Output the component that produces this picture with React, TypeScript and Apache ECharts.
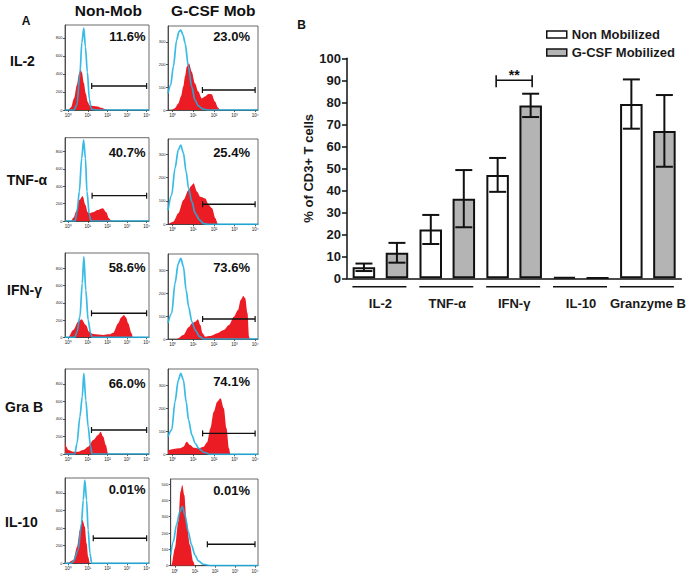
import React, { useEffect, useRef } from 'react';
import * as echarts from 'echarts';

type Pt = [number, number];

// ---------- Panel B data ----------
const categories = ['IL-2', 'TNF-α', 'IFN-γ', 'IL-10', 'Granzyme B'];
const nonMobMean = [5.0, 22.2, 47.0, 0.6, 79.2];
const nonMobErr = [1.7, 6.6, 7.7, 0, 11.2];
const gcsfMean = [11.6, 36.2, 78.6, 0.2, 67.0];
const gcsfErr = [4.5, 13.0, 5.3, 0, 16.3];
const significance: [number, number, string][] = [[2, 90, '**']];

// ---------- Panel A data (x = log10 fluorescence, y = count) ----------
const rowLabels = ['IL-2', 'TNF-α', 'IFN-γ', 'Gra B', 'IL-10'];
const nonMobPct = ['11.6%', '40.7%', '58.6%', '66.0%', '0.01%'];
const gcsfPct = ['23.0%', '25.4%', '73.6%', '74.1%', '0.01%'];
const decadeTicks = [0, 1, 2, 3, 4];
const nonCountTicks = [0, 200, 400, 600, 800];
const gCountTicks = [0, 100, 200, 300];
const gIl10CountTicks = [0, 100, 200, 300, 400, 500];
const nonYMax = [944, 957, 980, 971, 969];
const gYMax = [370, 366, 370, 371, 531];
const nonXRange: Pt = [-0.16, 4.12];
const gXRange: Pt[] = [[-0.23, 4.14], [-0.23, 4.14], [-0.23, 4.14], [-0.23, 4.14], [-0.21, 4.15]];

const il2NonRed: Pt[] = [[-0.16,0],[0,0],[0.15,30],[0.3,130],[0.45,280],[0.55,400],[0.63,450],[0.7,420],[0.8,300],[0.9,180],[1.0,90],[1.1,50],[1.3,45],[1.5,40],[1.7,25],[1.9,8],[2.0,0],[4.12,0]];
const il2NonCyan: Pt[] = [[-0.16,0],[0.3,0],[0.45,60],[0.6,400],[0.7,750],[0.8,910],[0.88,700],[0.98,420],[1.08,120],[1.18,10],[1.4,0],[4.12,0]];
const il2GRed: Pt[] = [[-0.23,0],[-0.05,0],[0.1,8],[0.27,29],[0.4,60],[0.51,103],[0.6,150],[0.68,191],[0.79,205],[0.92,169],[1.08,117],[1.24,81],[1.41,51],[1.57,59],[1.73,70],[1.89,69],[2.05,37],[2.2,10],[2.3,0],[4.14,0]];
const il2GCyan: Pt[] = [[-0.23,73],[-0.1,110],[0.03,191],[0.19,308],[0.3,345],[0.39,352],[0.5,330],[0.6,294],[0.76,191],[0.92,103],[1.08,44],[1.24,18],[1.48,4],[1.7,0],[4.14,0]];

const tnfNonRed: Pt[] = [[-0.16,0],[0.14,0],[0.28,40],[0.4,107],[0.57,241],[0.74,287],[0.88,184],[1.0,100],[1.08,88],[1.25,100],[1.51,126],[1.77,146],[1.94,100],[2.08,31],[2.2,0],[4.12,0]];
const tnfNonCyan: Pt[] = [[-0.16,0],[0.36,0],[0.45,100],[0.57,337],[0.69,720],[0.79,930],[0.88,720],[0.96,337],[1.08,69],[1.17,0],[4.12,0]];
const tnfGRed: Pt[] = [[-0.23,0],[-0.2,0],[0.03,11],[0.27,47],[0.52,104],[0.77,147],[0.9,165],[1.01,176],[1.18,140],[1.34,118],[1.58,111],[1.75,83],[1.91,69],[2.07,26],[2.2,0],[4.14,0]];
const tnfGCyan: Pt[] = [[-0.23,60],[-0.05,126],[0.11,240],[0.27,319],[0.39,340],[0.52,305],[0.65,226],[0.77,154],[0.93,97],[1.09,47],[1.31,18],[1.5,3],[1.7,0],[4.14,0]];

const ifnNonRed: Pt[] = [[-0.16,0],[0,0],[0.26,85],[0.51,181],[0.68,209],[0.9,143],[1.07,65],[1.28,38],[1.79,27],[2.1,35],[2.3,54],[2.55,163],[2.7,230],[2.84,259],[2.95,230],[3.06,163],[3.23,47],[3.3,0],[4.12,0]];
const ifnNonCyan: Pt[] = [[-0.16,0],[0.34,0],[0.45,60],[0.6,240],[0.72,628],[0.8,937],[0.9,550],[1.02,201],[1.14,47],[1.22,0],[4.12,0]];
const ifnGRed: Pt[] = [[-0.23,0],[0.2,0],[0.52,17],[0.77,51],[0.93,68],[1.09,75],[1.22,86],[1.34,61],[1.45,25],[1.58,10],[1.83,13],[2.16,25],[2.48,39],[2.73,61],[2.97,97],[3.17,126],[3.3,170],[3.43,187],[3.52,177],[3.63,112],[3.71,10],[3.74,0],[4.14,0]];
const ifnGCyan: Pt[] = [[-0.23,70],[-0.05,112],[0.11,242],[0.27,329],[0.39,351],[0.52,315],[0.65,213],[0.77,141],[0.93,75],[1.09,39],[1.31,10],[1.5,0],[4.14,0]];

const grbNonRed: Pt[] = [[-0.16,141],[-0.08,80],[0,46],[0.26,27],[0.51,27],[0.77,46],[1.02,84],[1.28,160],[1.53,217],[1.65,255],[1.79,198],[1.92,103],[2.04,0],[4.12,0]];
const grbNonCyan: Pt[] = [[-0.16,0],[0.34,0],[0.45,120],[0.6,427],[0.72,655],[0.8,920],[0.9,617],[1.02,312],[1.14,84],[1.22,0],[4.12,0]];
const grbGRed: Pt[] = [[-0.23,15],[-0.19,19],[0.03,23],[0.36,26],[0.52,33],[0.68,55],[0.85,40],[1.01,29],[1.26,26],[1.5,33],[1.67,52],[1.83,113],[1.99,185],[2.16,229],[2.32,244],[2.48,200],[2.61,113],[2.73,26],[2.8,0],[4.14,0]];
const grbGCyan: Pt[] = [[-0.23,77],[-0.05,106],[0.11,229],[0.27,323],[0.39,352],[0.52,323],[0.65,229],[0.77,149],[0.93,84],[1.09,48],[1.26,26],[1.5,9],[1.8,0],[4.14,0]];

const il10NonRed: Pt[] = [[-0.16,0],[0,7],[0.26,38],[0.46,189],[0.6,378],[0.73,492],[0.85,416],[0.94,227],[1.02,75],[1.11,0],[4.12,0]];
const il10NonCyan: Pt[] = [[-0.16,0],[0.15,0],[0.26,18],[0.51,151],[0.68,454],[0.77,719],[0.85,946],[0.94,719],[1.02,378],[1.11,114],[1.2,0],[4.12,0]];
const il10GRed: Pt[] = [[-0.21,0],[-0.17,5],[0,107],[0.17,270],[0.28,454],[0.37,495],[0.47,433],[0.58,270],[0.75,127],[0.92,25],[1.0,0],[4.15,0]];
const il10GCyan: Pt[] = [[-0.21,66],[-0.08,147],[0.08,250],[0.25,331],[0.37,362],[0.5,311],[0.67,208],[0.83,127],[1.0,66],[1.17,29],[1.42,9],[1.8,0],[4.15,0]];

// gates: [start decade, end decade, count level]
const nonGates: [number, number, number][] = [[1.2,4,267],[1.22,4,291],[1.19,4,279],[1.19,4,274],[1.28,4,284]];
const gGates: [number, number, number][] = [[1.44,4,88],[1.45,4,86],[1.45,4,87],[1.45,4,91],[1.62,4,131]];

const nonRed = [il2NonRed, tnfNonRed, ifnNonRed, grbNonRed, il10NonRed];
const nonCyan = [il2NonCyan, tnfNonCyan, ifnNonCyan, grbNonCyan, il10NonCyan];
const gRed = [il2GRed, tnfGRed, ifnGRed, grbGRed, il10GRed];
const gCyan = [il2GCyan, tnfGCyan, ifnGCyan, grbGCyan, il10GCyan];

// ---------- layout ----------
const FONT = "'Liberation Sans', Arial, sans-serif";
const nonRects = [[65,25,84,85],[65,137.7,84,83.3],[65,253,84,84.3],[65,369,84,85],[65,478,84,85.3]];
const gRects = [[168,26,90,84],[168,139,90,85.3],[168,254,90,85],[168,369,90,85.3],[170.7,479,87.3,86.7]];
const nonPctY = [36.7, 152.3, 267.7, 383.3, 489];
const gPctY = [36, 152.3, 267.7, 381.7, 490];
const rowLabelX = [10, 6.7, 7, 5, 5];
const rowLabelY = [61, 180, 290, 407, 522];
const SUP = ['⁰', '¹', '²', '³', '⁴'];
const RED = '#ec1c24';
const CYAN = '#1cb2e2';

function buildOption() {
  const grid: any[] = [];
  const xAxis: any[] = [];
  const yAxis: any[] = [];
  const series: any[] = [];
  const graphic: any[] = [];
  const thin = { color: '#333', width: 0.8 };

  const addPanel = (rect: number[], xr: Pt, yMax: number, yTicks: number[], red: Pt[], cyan: Pt[], gate: [number, number, number]) => {
    const gi = grid.length;
    grid.push({ left: rect[0], top: rect[1], width: rect[2], height: rect[3], show: true, borderColor: '#444', borderWidth: 0.8 });
    xAxis.push({
      gridIndex: gi, type: 'value', min: xr[0], max: xr[1],
      axisLine: { show: true, onZero: false, lineStyle: thin },
      axisTick: { show: true, length: 2, customValues: decadeTicks, lineStyle: thin },
      axisLabel: { customValues: decadeTicks, formatter: (v: number) => '10' + (SUP[Math.round(v)] || ''), fontSize: 4.5, margin: 3, color: '#222', fontFamily: FONT },
      splitLine: { show: false },
    });
    yAxis.push({
      gridIndex: gi, type: 'value', min: 0, max: yMax,
      axisLine: { show: true, onZero: false, lineStyle: thin },
      axisTick: { show: true, length: 2, customValues: yTicks, lineStyle: thin },
      axisLabel: { customValues: yTicks, fontSize: 4, margin: 2.5, color: '#222', fontFamily: FONT },
      splitLine: { show: false },
    });
    series.push({
      type: 'line', xAxisIndex: gi, yAxisIndex: gi, data: red, symbol: 'none', smooth: 0.3, smoothMonotone: 'x',
      lineStyle: { width: 0 }, areaStyle: { color: RED, opacity: 1 }, z: 2, silent: true,
    });
    series.push({
      type: 'line', xAxisIndex: gi, yAxisIndex: gi, data: cyan, symbol: 'none', smooth: 0.3, smoothMonotone: 'x',
      lineStyle: { color: CYAN, width: 1.7, opacity: 0.88 }, z: 3, silent: true,
    });
    series.push({
      type: 'line', xAxisIndex: gi, yAxisIndex: gi, data: [[gate[0], gate[2]], [gate[1], gate[2]]],
      symbol: 'rect', symbolSize: [1.2, 6], itemStyle: { color: '#111' }, lineStyle: { color: '#111', width: 1.4 }, z: 4, silent: true,
    });
  };

  for (let r = 0; r < 5; r++) {
    addPanel(nonRects[r], nonXRange, nonYMax[r], nonCountTicks, nonRed[r], nonCyan[r], nonGates[r]);
    addPanel(gRects[r], gXRange[r], gYMax[r], r === 4 ? gIl10CountTicks : gCountTicks, gRed[r], gCyan[r], gGates[r]);
    graphic.push({ type: 'text', style: { text: nonMobPct[r], x: 145.5, y: nonPctY[r], textAlign: 'right', textVerticalAlign: 'middle', font: `bold 13px ${FONT}`, fill: '#111' } });
    graphic.push({ type: 'text', style: { text: gcsfPct[r], x: 250, y: gPctY[r], textAlign: 'right', textVerticalAlign: 'middle', font: `bold 13px ${FONT}`, fill: '#111' } });
    graphic.push({ type: 'text', style: { text: rowLabels[r], x: rowLabelX[r], y: rowLabelY[r], textAlign: 'left', textVerticalAlign: 'middle', font: `bold 14px ${FONT}`, fill: '#111' } });
  }

  graphic.push({ type: 'text', style: { text: 'A', x: 26, y: 21, textAlign: 'center', textVerticalAlign: 'middle', font: `bold 12px ${FONT}`, fill: '#111' } });
  graphic.push({ type: 'text', style: { text: 'B', x: 301.5, y: 25, textAlign: 'center', textVerticalAlign: 'middle', font: `bold 12px ${FONT}`, fill: '#111' } });
  graphic.push({ type: 'text', style: { text: 'Non-Mob', x: 108.3, y: 10, textAlign: 'center', textVerticalAlign: 'middle', font: `bold 15.5px ${FONT}`, fill: '#111' } });
  graphic.push({ type: 'text', style: { text: 'G-CSF Mob', x: 213.3, y: 10, textAlign: 'center', textVerticalAlign: 'middle', font: `bold 15.5px ${FONT}`, fill: '#111' } });

  // ---------- Panel B ----------
  const bi = grid.length;
  grid.push({ left: 347, top: 58.3, width: 334.3, height: 220 });
  xAxis.push({
    gridIndex: bi, type: 'category', data: categories,
    axisLine: { show: true, lineStyle: { color: '#111', width: 1.5 } },
    axisTick: { show: false },
    axisLabel: { fontSize: 13, fontWeight: 'bold', color: '#1a1a1a', margin: 19, fontFamily: FONT, interval: 0 },
  });
  yAxis.push({
    gridIndex: bi, type: 'value', min: 0, max: 100, interval: 10,
    name: '% of CD3+ T cells', nameLocation: 'middle', nameGap: 32,
    nameTextStyle: { fontSize: 13, fontWeight: 'bold', color: '#1a1a1a', fontFamily: FONT },
    axisLine: { show: true, lineStyle: { color: '#111', width: 1.5 } },
    axisTick: { show: true, length: 5, lineStyle: { color: '#111', width: 1.5 } },
    axisLabel: { fontSize: 13, fontWeight: 'bold', color: '#1a1a1a', margin: 6, fontFamily: FONT },
    splitLine: { show: false },
  });

  series.push({
    name: 'Non Mobilized', type: 'bar', xAxisIndex: bi, yAxisIndex: bi, data: nonMobMean,
    barWidth: 22.5, barGap: '47%', itemStyle: { color: '#ffffff', borderColor: '#111', borderWidth: 2 }, z: 2,
  });
  series.push({
    name: 'G-CSF Mobilized', type: 'bar', xAxisIndex: bi, yAxisIndex: bi, data: gcsfMean,
    barWidth: 22.5, barGap: '47%', itemStyle: { color: '#b4b4b4', borderColor: '#111', borderWidth: 2 }, z: 2,
  });

  const errSeries = (mean: number[], err: number[], offset: number) => ({
    type: 'custom', xAxisIndex: bi, yAxisIndex: bi, z: 5, silent: true,
    data: mean.map((m, i) => [i, m - err[i], m + err[i]]).filter((_, i) => err[i] > 0),
    renderItem: (_p: any, api: any) => {
      const idx = api.value(0);
      const lo = api.coord([idx, api.value(1)]);
      const hi = api.coord([idx, api.value(2)]);
      const x = lo[0] + offset;
      const st = { stroke: '#111', lineWidth: 2 };
      return {
        type: 'group', children: [
          { type: 'line', shape: { x1: x, y1: lo[1], x2: x, y2: hi[1] }, style: st },
          { type: 'line', shape: { x1: x - 8.5, y1: hi[1], x2: x + 8.5, y2: hi[1] }, style: st },
          { type: 'line', shape: { x1: x - 8.5, y1: lo[1], x2: x + 8.5, y2: lo[1] }, style: st },
        ],
      };
    },
  });
  series.push(errSeries(nonMobMean, nonMobErr, -16.5));
  series.push(errSeries(gcsfMean, gcsfErr, 16.5));

  // category underlines
  series.push({
    type: 'custom', xAxisIndex: bi, yAxisIndex: bi, clip: false, silent: true, z: 3,
    data: categories.map((_, i) => [i, 0]),
    renderItem: (_p: any, api: any) => {
      const c = api.coord([api.value(0), 0]);
      return { type: 'line', shape: { x1: c[0] - 28, y1: c[1] + 8.5, x2: c[0] + 26, y2: c[1] + 8.5 }, style: { stroke: '#111', lineWidth: 1.6 } };
    },
  });

  // significance bracket
  series.push({
    type: 'custom', xAxisIndex: bi, yAxisIndex: bi, clip: false, silent: true, z: 6,
    data: significance.map((s) => [s[0], s[1]]),
    renderItem: (p: any, api: any) => {
      const c = api.coord([api.value(0), api.value(1)]);
      const st = { stroke: '#111', lineWidth: 1.6 };
      const x1 = c[0] - 18, x2 = c[0] + 18;
      return {
        type: 'group', children: [
          { type: 'line', shape: { x1, y1: c[1], x2, y2: c[1] }, style: st },
          { type: 'line', shape: { x1, y1: c[1] - 5, x2: x1, y2: c[1] + 7 }, style: st },
          { type: 'line', shape: { x1: x2, y1: c[1] - 5, x2, y2: c[1] + 7 }, style: st },
          { type: 'text', style: { text: significance[p.dataIndex][2], x: c[0], y: c[1] - 5, textAlign: 'center', textVerticalAlign: 'middle', font: `bold 14px ${FONT}`, fill: '#111' } },
        ],
      };
    },
  });

  return {
    animation: false,
    backgroundColor: '#ffffff',
    grid, xAxis, yAxis, series, graphic,
    legend: {
      data: ['Non Mobilized', 'G-CSF Mobilized'],
      orient: 'vertical', left: 541, top: 23, itemWidth: 20, itemHeight: 7, itemGap: 5,
      icon: 'rect',
      itemStyle: { borderColor: '#111', borderWidth: 1.5 },
      textStyle: { fontSize: 13, fontWeight: 'bold', color: '#1a1a1a', fontFamily: FONT },
      selectedMode: false,
    },
  };
}

export default function App() {
  const ref = useRef<HTMLDivElement>(null);
  useEffect(() => {
    if (!ref.current) return;
    const chart = echarts.init(ref.current, undefined, { renderer: 'svg' });
    chart.setOption(buildOption() as any);
    return () => chart.dispose();
  }, []);
  return <div ref={ref} style={{ position: 'absolute', left: 0, top: 0, width: 695, height: 585 }} />;
}
